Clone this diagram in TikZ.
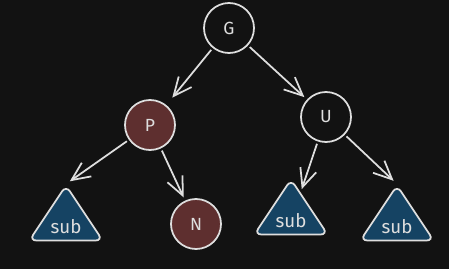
\documentclass[tikz,border=0pt]{standalone}
\usepackage{fontspec}
\setmainfont{Fira Sans}
\usepackage{tikz}
\usetikzlibrary{
  shapes.geometric,
  arrows.meta
}
\definecolor{bgblack}{RGB}{18,18,18}
\definecolor{inkgray}{RGB}{222,222,222}
\definecolor{nodered}{RGB}{94,47,47}
\definecolor{nodeblue}{RGB}{21,67,99}

\begin{document}
\begin{tikzpicture}[
  x=0.03cm, y=-0.03cm,
  every node/.style={circle, draw=inkgray, fill=bgblack, line width=1.5pt, minimum size=1.5cm, text=inkgray, font=\fontsize{15}{17}\selectfont},
  rednode/.style={fill=nodered},
  subtree/.style={isosceles triangle, shape border rotate=85, isosceles triangle apex angle=72, isosceles triangle stretches, minimum width=2.2cm, minimum height=1.65cm, inner sep=0pt, fill=nodeblue, rounded corners=6pt, font=\fontsize{16}{18}\selectfont},
  link/.style={draw=inkgray, line width=1.5pt, -{Straight Barb[length=0.55cm, width=0.5cm]}, shorten <=2pt, shorten >=3pt}
]
  \fill[bgblack] (0,0) rectangle (449,269);
  \node (G) at (229,28) {G};
  \node[rednode] (P) at (150,125) {P};
  \node (U) at (326,117) {U};
  \node[rednode] (N) at (196,224) {N};
  \node[subtree, anchor=apex] (s1) at (66,184) {sub};
  \node[subtree, anchor=apex] (s2) at (291,178) {sub};
  \node[subtree, anchor=apex] (s3) at (397,184) {sub};
  \draw[link, shorten >=8pt] (G) -- (P);
  \draw[link] (G) -- (U);
  \draw[link, shorten >=4pt] (P) -- (s1.apex);
  \draw[link] (P) -- (N);
  \draw[link] (U) -- (s2);
  \draw[link, shorten >=4pt] (U) -- (s3.apex);
\end{tikzpicture}
\end{document}
